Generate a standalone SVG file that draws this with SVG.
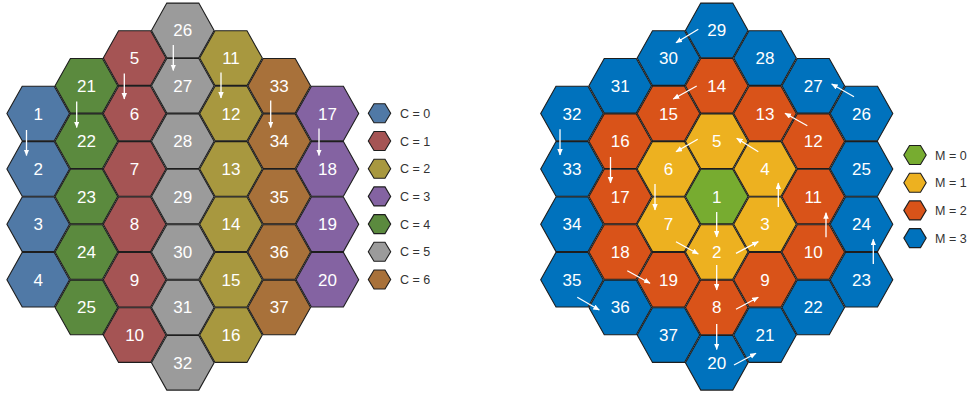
<svg xmlns="http://www.w3.org/2000/svg" xmlns:xlink="http://www.w3.org/1999/xlink" width="969" height="396" viewBox="0 0 969 396">
<style>
.h{stroke:#1e1e1e;stroke-width:1.1}
.n{font-family:"Liberation Sans",Arial,sans-serif;font-size:17px;fill:#fff;text-anchor:middle}
.lg{font-family:"Liberation Sans",Arial,sans-serif;font-size:12.5px;fill:#333}
.a{stroke:#fff;stroke-width:1.3;fill:none;marker-end:url(#ah)}
.c0{fill:#5079a6}.c1{fill:#a55454}.c2{fill:#a8983f}.c3{fill:#8463a2}.c4{fill:#5b8a3e}.c5{fill:#9b9b9b}.c6{fill:#a8713a}
.m0{fill:#77ac30}.m1{fill:#edb120}.m2{fill:#d95319}.m3{fill:#0072bd}
</style>
<defs>
<path id="hx" d="M-31.3,0 L-16,-27.3 L16,-27.3 L31.3,0 L16,27.3 L-16,27.3 Z"/>
<path id="hs" d="M-11.2,0 L-5.5,-9.5 L5.5,-9.5 L11.2,0 L5.5,9.5 L-5.5,9.5 Z"/>
<marker id="ah" markerUnits="userSpaceOnUse" markerWidth="7" markerHeight="6" refX="6" refY="2.75" orient="auto"><path d="M0,0 L6.5,2.75 L0,5.5 Z" fill="#fff"/></marker>
</defs>
<g id="left">
<g id="L1"><use xlink:href="#hx" x="38.2" y="113.5" class="h c0"/><text class="n" x="38.2" y="119.5">1</text></g>
<g id="L2"><use xlink:href="#hx" x="38.2" y="168.9" class="h c0"/><text class="n" x="38.2" y="174.9">2</text></g>
<g id="L3"><use xlink:href="#hx" x="38.2" y="224.3" class="h c0"/><text class="n" x="38.2" y="230.3">3</text></g>
<g id="L4"><use xlink:href="#hx" x="38.2" y="279.7" class="h c0"/><text class="n" x="38.2" y="285.7">4</text></g>
<g id="L21"><use xlink:href="#hx" x="86.4" y="85.8" class="h c4"/><text class="n" x="86.4" y="91.8">21</text></g>
<g id="L22"><use xlink:href="#hx" x="86.4" y="141.2" class="h c4"/><text class="n" x="86.4" y="147.2">22</text></g>
<g id="L23"><use xlink:href="#hx" x="86.4" y="196.6" class="h c4"/><text class="n" x="86.4" y="202.6">23</text></g>
<g id="L24"><use xlink:href="#hx" x="86.4" y="252" class="h c4"/><text class="n" x="86.4" y="258">24</text></g>
<g id="L25"><use xlink:href="#hx" x="86.4" y="307.4" class="h c4"/><text class="n" x="86.4" y="313.4">25</text></g>
<g id="L5"><use xlink:href="#hx" x="134.6" y="58.1" class="h c1"/><text class="n" x="134.6" y="64.1">5</text></g>
<g id="L6"><use xlink:href="#hx" x="134.6" y="113.5" class="h c1"/><text class="n" x="134.6" y="119.5">6</text></g>
<g id="L7"><use xlink:href="#hx" x="134.6" y="168.9" class="h c1"/><text class="n" x="134.6" y="174.9">7</text></g>
<g id="L8"><use xlink:href="#hx" x="134.6" y="224.3" class="h c1"/><text class="n" x="134.6" y="230.3">8</text></g>
<g id="L9"><use xlink:href="#hx" x="134.6" y="279.7" class="h c1"/><text class="n" x="134.6" y="285.7">9</text></g>
<g id="L10"><use xlink:href="#hx" x="134.6" y="335.1" class="h c1"/><text class="n" x="134.6" y="341.1">10</text></g>
<g id="L26"><use xlink:href="#hx" x="182.8" y="30.4" class="h c5"/><text class="n" x="182.8" y="36.4">26</text></g>
<g id="L27"><use xlink:href="#hx" x="182.8" y="85.8" class="h c5"/><text class="n" x="182.8" y="91.8">27</text></g>
<g id="L28"><use xlink:href="#hx" x="182.8" y="141.2" class="h c5"/><text class="n" x="182.8" y="147.2">28</text></g>
<g id="L29"><use xlink:href="#hx" x="182.8" y="196.6" class="h c5"/><text class="n" x="182.8" y="202.6">29</text></g>
<g id="L30"><use xlink:href="#hx" x="182.8" y="252" class="h c5"/><text class="n" x="182.8" y="258">30</text></g>
<g id="L31"><use xlink:href="#hx" x="182.8" y="307.4" class="h c5"/><text class="n" x="182.8" y="313.4">31</text></g>
<g id="L32"><use xlink:href="#hx" x="182.8" y="362.8" class="h c5"/><text class="n" x="182.8" y="368.8">32</text></g>
<g id="L11"><use xlink:href="#hx" x="231" y="58.1" class="h c2"/><text class="n" x="231" y="64.1">11</text></g>
<g id="L12"><use xlink:href="#hx" x="231" y="113.5" class="h c2"/><text class="n" x="231" y="119.5">12</text></g>
<g id="L13"><use xlink:href="#hx" x="231" y="168.9" class="h c2"/><text class="n" x="231" y="174.9">13</text></g>
<g id="L14"><use xlink:href="#hx" x="231" y="224.3" class="h c2"/><text class="n" x="231" y="230.3">14</text></g>
<g id="L15"><use xlink:href="#hx" x="231" y="279.7" class="h c2"/><text class="n" x="231" y="285.7">15</text></g>
<g id="L16"><use xlink:href="#hx" x="231" y="335.1" class="h c2"/><text class="n" x="231" y="341.1">16</text></g>
<g id="L33"><use xlink:href="#hx" x="279.2" y="85.8" class="h c6"/><text class="n" x="279.2" y="91.8">33</text></g>
<g id="L34"><use xlink:href="#hx" x="279.2" y="141.2" class="h c6"/><text class="n" x="279.2" y="147.2">34</text></g>
<g id="L35"><use xlink:href="#hx" x="279.2" y="196.6" class="h c6"/><text class="n" x="279.2" y="202.6">35</text></g>
<g id="L36"><use xlink:href="#hx" x="279.2" y="252" class="h c6"/><text class="n" x="279.2" y="258">36</text></g>
<g id="L37"><use xlink:href="#hx" x="279.2" y="307.4" class="h c6"/><text class="n" x="279.2" y="313.4">37</text></g>
<g id="L17"><use xlink:href="#hx" x="327.4" y="113.5" class="h c3"/><text class="n" x="327.4" y="119.5">17</text></g>
<g id="L18"><use xlink:href="#hx" x="327.4" y="168.9" class="h c3"/><text class="n" x="327.4" y="174.9">18</text></g>
<g id="L19"><use xlink:href="#hx" x="327.4" y="224.3" class="h c3"/><text class="n" x="327.4" y="230.3">19</text></g>
<g id="L20"><use xlink:href="#hx" x="327.4" y="279.7" class="h c3"/><text class="n" x="327.4" y="285.7">20</text></g>
</g>
<g id="legendC">
<g id="LC0"><use xlink:href="#hs" x="379.5" y="113.3" class="h c0"/><text class="lg" x="400" y="117.8">C = 0</text></g>
<g id="LC1"><use xlink:href="#hs" x="379.5" y="141" class="h c1"/><text class="lg" x="400" y="145.5">C = 1</text></g>
<g id="LC2"><use xlink:href="#hs" x="379.5" y="168.7" class="h c2"/><text class="lg" x="400" y="173.2">C = 2</text></g>
<g id="LC3"><use xlink:href="#hs" x="379.5" y="196.4" class="h c3"/><text class="lg" x="400" y="200.9">C = 3</text></g>
<g id="LC4"><use xlink:href="#hs" x="379.5" y="224.1" class="h c4"/><text class="lg" x="400" y="228.6">C = 4</text></g>
<g id="LC5"><use xlink:href="#hs" x="379.5" y="251.8" class="h c5"/><text class="lg" x="400" y="256.3">C = 5</text></g>
<g id="LC6"><use xlink:href="#hs" x="379.5" y="279.5" class="h c6"/><text class="lg" x="400" y="284">C = 6</text></g>
</g>
<g id="right">
<g id="R32"><use xlink:href="#hx" x="572" y="113.5" class="h m3"/><text class="n" x="572" y="119.5">32</text></g>
<g id="R33"><use xlink:href="#hx" x="572" y="168.9" class="h m3"/><text class="n" x="572" y="174.9">33</text></g>
<g id="R34"><use xlink:href="#hx" x="572" y="224.3" class="h m3"/><text class="n" x="572" y="230.3">34</text></g>
<g id="R35"><use xlink:href="#hx" x="572" y="279.7" class="h m3"/><text class="n" x="572" y="285.7">35</text></g>
<g id="R31"><use xlink:href="#hx" x="620.25" y="85.8" class="h m3"/><text class="n" x="620.25" y="91.8">31</text></g>
<g id="R16"><use xlink:href="#hx" x="620.25" y="141.2" class="h m2"/><text class="n" x="620.25" y="147.2">16</text></g>
<g id="R17"><use xlink:href="#hx" x="620.25" y="196.6" class="h m2"/><text class="n" x="620.25" y="202.6">17</text></g>
<g id="R18"><use xlink:href="#hx" x="620.25" y="252" class="h m2"/><text class="n" x="620.25" y="258">18</text></g>
<g id="R36"><use xlink:href="#hx" x="620.25" y="307.4" class="h m3"/><text class="n" x="620.25" y="313.4">36</text></g>
<g id="R30"><use xlink:href="#hx" x="668.5" y="58.1" class="h m3"/><text class="n" x="668.5" y="64.1">30</text></g>
<g id="R15"><use xlink:href="#hx" x="668.5" y="113.5" class="h m2"/><text class="n" x="668.5" y="119.5">15</text></g>
<g id="R6"><use xlink:href="#hx" x="668.5" y="168.9" class="h m1"/><text class="n" x="668.5" y="174.9">6</text></g>
<g id="R7"><use xlink:href="#hx" x="668.5" y="224.3" class="h m1"/><text class="n" x="668.5" y="230.3">7</text></g>
<g id="R19"><use xlink:href="#hx" x="668.5" y="279.7" class="h m2"/><text class="n" x="668.5" y="285.7">19</text></g>
<g id="R37"><use xlink:href="#hx" x="668.5" y="335.1" class="h m3"/><text class="n" x="668.5" y="341.1">37</text></g>
<g id="R29"><use xlink:href="#hx" x="716.75" y="30.4" class="h m3"/><text class="n" x="716.75" y="36.4">29</text></g>
<g id="R14"><use xlink:href="#hx" x="716.75" y="85.8" class="h m2"/><text class="n" x="716.75" y="91.8">14</text></g>
<g id="R5"><use xlink:href="#hx" x="716.75" y="141.2" class="h m1"/><text class="n" x="716.75" y="147.2">5</text></g>
<g id="R1"><use xlink:href="#hx" x="716.75" y="196.6" class="h m0"/><text class="n" x="716.75" y="202.6">1</text></g>
<g id="R2"><use xlink:href="#hx" x="716.75" y="252" class="h m1"/><text class="n" x="716.75" y="258">2</text></g>
<g id="R8"><use xlink:href="#hx" x="716.75" y="307.4" class="h m2"/><text class="n" x="716.75" y="313.4">8</text></g>
<g id="R20"><use xlink:href="#hx" x="716.75" y="362.8" class="h m3"/><text class="n" x="716.75" y="368.8">20</text></g>
<g id="R28"><use xlink:href="#hx" x="765" y="58.1" class="h m3"/><text class="n" x="765" y="64.1">28</text></g>
<g id="R13"><use xlink:href="#hx" x="765" y="113.5" class="h m2"/><text class="n" x="765" y="119.5">13</text></g>
<g id="R4"><use xlink:href="#hx" x="765" y="168.9" class="h m1"/><text class="n" x="765" y="174.9">4</text></g>
<g id="R3"><use xlink:href="#hx" x="765" y="224.3" class="h m1"/><text class="n" x="765" y="230.3">3</text></g>
<g id="R9"><use xlink:href="#hx" x="765" y="279.7" class="h m2"/><text class="n" x="765" y="285.7">9</text></g>
<g id="R21"><use xlink:href="#hx" x="765" y="335.1" class="h m3"/><text class="n" x="765" y="341.1">21</text></g>
<g id="R27"><use xlink:href="#hx" x="813.25" y="85.8" class="h m3"/><text class="n" x="813.25" y="91.8">27</text></g>
<g id="R12"><use xlink:href="#hx" x="813.25" y="141.2" class="h m2"/><text class="n" x="813.25" y="147.2">12</text></g>
<g id="R11"><use xlink:href="#hx" x="813.25" y="196.6" class="h m2"/><text class="n" x="813.25" y="202.6">11</text></g>
<g id="R10"><use xlink:href="#hx" x="813.25" y="252" class="h m2"/><text class="n" x="813.25" y="258">10</text></g>
<g id="R22"><use xlink:href="#hx" x="813.25" y="307.4" class="h m3"/><text class="n" x="813.25" y="313.4">22</text></g>
<g id="R26"><use xlink:href="#hx" x="861.5" y="113.5" class="h m3"/><text class="n" x="861.5" y="119.5">26</text></g>
<g id="R25"><use xlink:href="#hx" x="861.5" y="168.9" class="h m3"/><text class="n" x="861.5" y="174.9">25</text></g>
<g id="R24"><use xlink:href="#hx" x="861.5" y="224.3" class="h m3"/><text class="n" x="861.5" y="230.3">24</text></g>
<g id="R23"><use xlink:href="#hx" x="861.5" y="279.7" class="h m3"/><text class="n" x="861.5" y="285.7">23</text></g>
</g>
<g id="legendM">
<g id="LM0"><use xlink:href="#hs" x="915" y="155" class="h m0"/><text class="lg" x="935" y="159.5">M = 0</text></g>
<g id="LM1"><use xlink:href="#hs" x="915" y="182.7" class="h m1"/><text class="lg" x="935" y="187.2">M = 1</text></g>
<g id="LM2"><use xlink:href="#hs" x="915" y="210.4" class="h m2"/><text class="lg" x="935" y="214.9">M = 2</text></g>
<g id="LM3"><use xlink:href="#hs" x="915" y="238.1" class="h m3"/><text class="lg" x="935" y="242.6">M = 3</text></g>
</g>
<g id="connectors">
<line class="a" x1="26.5" y1="130" x2="26.5" y2="155.5"/>
<line class="a" x1="76.7" y1="101.5" x2="76.7" y2="127.5"/>
<line class="a" x1="124.3" y1="73.5" x2="124.3" y2="99"/>
<line class="a" x1="173.3" y1="45" x2="173.3" y2="70.5"/>
<line class="a" x1="221" y1="72.5" x2="221" y2="98"/>
<line class="a" x1="270.7" y1="100.5" x2="270.7" y2="127.5"/>
<line class="a" x1="319" y1="128.5" x2="319" y2="155.5"/>
<line class="a" x1="698.3" y1="29.3" x2="676" y2="42.7"/>
<line class="a" x1="696.7" y1="86" x2="673.3" y2="99"/>
<line class="a" x1="697.7" y1="139.3" x2="676" y2="151.7"/>
<line class="a" x1="758.3" y1="151.7" x2="736.7" y2="138.3"/>
<line class="a" x1="807.3" y1="125.7" x2="785" y2="113.3"/>
<line class="a" x1="854" y1="96.7" x2="831.7" y2="84"/>
<line class="a" x1="560" y1="129.3" x2="560" y2="155"/>
<line class="a" x1="610.5" y1="157" x2="610.5" y2="183"/>
<line class="a" x1="655" y1="184" x2="655" y2="210"/>
<line class="a" x1="716.7" y1="212" x2="716.7" y2="237"/>
<line class="a" x1="716.7" y1="265" x2="716.7" y2="290"/>
<line class="a" x1="716.7" y1="324" x2="716.7" y2="349.5"/>
<line class="a" x1="676" y1="241.7" x2="698.3" y2="254"/>
<line class="a" x1="627.3" y1="270.7" x2="650" y2="283.3"/>
<line class="a" x1="577.3" y1="297.3" x2="599.3" y2="310"/>
<line class="a" x1="736" y1="253.3" x2="758.3" y2="241.7"/>
<line class="a" x1="736" y1="309.3" x2="758.3" y2="297.3"/>
<line class="a" x1="734" y1="365" x2="756" y2="353.3"/>
<line class="a" x1="826" y1="237.3" x2="826" y2="212.7"/>
<line class="a" x1="778.3" y1="207" x2="778.3" y2="183"/>
<line class="a" x1="873.3" y1="264" x2="873.3" y2="239.3"/>
</g>
</svg>
